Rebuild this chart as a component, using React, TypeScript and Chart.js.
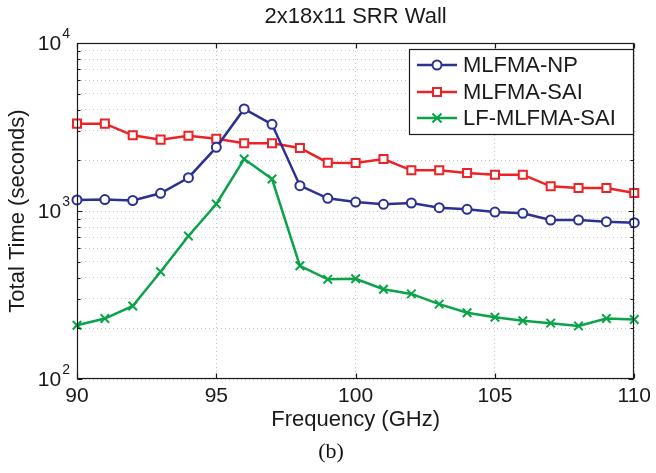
import { useEffect, useRef } from 'react';
import { Chart, registerables } from 'chart.js';

Chart.register(...registerables);

const frequencies = [90, 91, 92, 93, 94, 95, 96, 97, 98, 99, 100, 101, 102, 103, 104, 105, 106, 107, 108, 109, 110];
const mlfmaNP = [1163, 1170, 1155, 1274, 1578, 2393, 4048, 3282, 1415, 1190, 1130, 1096, 1116, 1047, 1023, 986, 969, 884, 884, 864, 852];
const mlfmaSAI = [3311, 3311, 2823, 2659, 2805, 2692, 2531, 2531, 2371, 1939, 1930, 2040, 1746, 1746, 1683, 1645, 1645, 1403, 1371, 1371, 1280];
const lfMlfmaSAI = [209, 229, 272, 435, 710, 1101, 2040, 1550, 472, 392, 395, 342, 321, 279, 248, 233, 222, 215, 207, 229, 226];

const seriesNames = ['MLFMA-NP', 'MLFMA-SAI', 'LF-MLFMA-SAI'];
const seriesColors = ['#2b3190', '#ec2227', '#0aa34a'];
const xTicks = [90, 95, 100, 105, 110];
const yDecades = [100, 1000, 10000];
const yDecadeExponents = ['2', '3', '4'];
const yMinor = [200, 300, 400, 500, 600, 700, 800, 900, 2000, 3000, 4000, 5000, 6000, 7000, 8000, 9000];

const titleText = '2x18x11 SRR Wall';
const xTitle = 'Frequency (GHz)';
const yTitle = 'Total Time (seconds)';
const caption = '(b)';

const FONT = '"Liberation Sans", Arial, Helvetica, sans-serif';

function drawMarker(ctx: CanvasRenderingContext2D, kind: number, cx: number, cy: number, color: string) {
  ctx.save();
  ctx.strokeStyle = color;
  ctx.lineWidth = 2;
  ctx.fillStyle = '#fff';
  ctx.beginPath();
  if (kind === 0) {
    ctx.arc(cx, cy, 4.5, 0, Math.PI * 2);
    ctx.fill();
    ctx.stroke();
  } else if (kind === 1) {
    ctx.rect(cx - 4, cy - 4, 8, 8);
    ctx.fill();
    ctx.stroke();
  } else {
    ctx.moveTo(cx - 4.5, cy - 4.5);
    ctx.lineTo(cx + 4.5, cy + 4.5);
    ctx.moveTo(cx + 4.5, cy - 4.5);
    ctx.lineTo(cx - 4.5, cy + 4.5);
    ctx.stroke();
  }
  ctx.restore();
}

const decorPlugin = {
  id: 'matlabDecor',
  afterDatasetsDraw(chart: any) {
    const { ctx, chartArea: a, scales } = chart;
    const xs = scales.x;
    const ys = scales.y;
    const L = Math.round(a.left) + 0.5;
    const R = Math.round(a.right) - 0.5;
    const T = Math.round(a.top) + 0.5;
    const B = Math.round(a.bottom) - 0.5;
    ctx.save();
    ctx.strokeStyle = '#1a1a1a';
    ctx.lineWidth = 1.2;
    ctx.beginPath();
    xTicks.forEach((v) => {
      const px = Math.round(xs.getPixelForValue(v)) + 0.5;
      ctx.moveTo(px, B);
      ctx.lineTo(px, B - 5);
      ctx.moveTo(px, T);
      ctx.lineTo(px, T + 5);
    });
    yDecades.forEach((v) => {
      const py = Math.round(ys.getPixelForValue(v)) + 0.5;
      ctx.moveTo(L, py);
      ctx.lineTo(L + 5, py);
      ctx.moveTo(R, py);
      ctx.lineTo(R - 5, py);
    });
    yMinor.forEach((v) => {
      const py = Math.round(ys.getPixelForValue(v)) + 0.5;
      ctx.moveTo(L, py);
      ctx.lineTo(L + 3, py);
      ctx.moveTo(R, py);
      ctx.lineTo(R - 3, py);
    });
    ctx.stroke();
    ctx.strokeRect(L, T, R - L, B - T);

    // y tick labels with superscripts
    ctx.fillStyle = '#1a1a1a';
    ctx.textBaseline = 'middle';
    yDecades.forEach((v, i) => {
      const py = ys.getPixelForValue(v);
      ctx.font = '14px ' + FONT;
      ctx.textAlign = 'right';
      const supRight = a.left - 7;
      const supW = ctx.measureText(yDecadeExponents[i]).width;
      ctx.fillText(yDecadeExponents[i], supRight, py - 9);
      ctx.font = '21px ' + FONT;
      ctx.fillText('10', supRight - supW - 1, py + 1);
    });

    // title and axis titles
    const cx = (a.left + a.right) / 2;
    ctx.textAlign = 'center';
    ctx.font = '22px ' + FONT;
    ctx.fillText(titleText, cx, 17);
    ctx.font = '22px ' + FONT;
    ctx.fillText(xTitle, cx, 420);
    ctx.save();
    ctx.translate(18, (a.top + a.bottom) / 2);
    ctx.rotate(-Math.PI / 2);
    ctx.fillText(yTitle, 0, 0);
    ctx.restore();

    ctx.font = '22px "Liberation Serif", "Times New Roman", serif';
    ctx.fillStyle = '#111';
    ctx.fillText(caption, 331, 452);

    // legend
    const lx = 409.5;
    const ly = 49.5;
    const lw = R - lx;
    const lh = 85;
    ctx.fillStyle = '#fff';
    ctx.fillRect(lx, ly, lw, lh);
    ctx.strokeStyle = '#1a1a1a';
    ctx.lineWidth = 1.2;
    ctx.strokeRect(lx, ly, lw, lh);
    const rows = [65, 92, 118];
    seriesNames.forEach((name, i) => {
      const ry = rows[i];
      ctx.strokeStyle = seriesColors[i];
      ctx.lineWidth = 2.5;
      ctx.beginPath();
      ctx.moveTo(417, ry);
      ctx.lineTo(457, ry);
      ctx.stroke();
      drawMarker(ctx, i, 437, ry, seriesColors[i]);
      ctx.fillStyle = '#1a1a1a';
      ctx.font = '22px ' + FONT;
      ctx.textAlign = 'left';
      ctx.textBaseline = 'middle';
      ctx.fillText(name, 463, ry + 1);
    });
    ctx.restore();
  },
};

export default function App() {
  const canvasRef = useRef<HTMLCanvasElement | null>(null);

  useEffect(() => {
    const canvas = canvasRef.current;
    if (!canvas) return;
    const seriesValues = [mlfmaNP, mlfmaSAI, lfMlfmaSAI];
    const pointStyles = ['circle', 'rect', 'crossRot'];
    const radii = [4.5, 5.7, 6];
    const chart = new Chart(canvas, {
      type: 'line',
      data: {
        datasets: seriesValues.map((vals, i) => ({
          label: seriesNames[i],
          data: frequencies.map((f, j) => ({ x: f, y: vals[j] })),
          borderColor: seriesColors[i],
          backgroundColor: '#ffffff',
          pointBorderColor: seriesColors[i],
          pointBackgroundColor: '#ffffff',
          borderWidth: 2.5,
          pointBorderWidth: 2,
          pointStyle: pointStyles[i] as any,
          pointRadius: radii[i],
          tension: 0,
          clip: false as any,
          order: i,
        })),
      },
      options: {
        responsive: false,
        animation: false,
        devicePixelRatio: 1,
        layout: { padding: { top: 43, right: 19, left: 0, bottom: 0 } },
        plugins: {
          legend: { display: false },
          title: { display: false },
          tooltip: { enabled: false },
        },
        scales: {
          x: {
            type: 'linear',
            min: 90,
            max: 110,
            afterFit: (scale: any) => {
              scale.height = 94;
            },
            afterBuildTicks: (scale: any) => {
              scale.ticks = xTicks.map((v) => ({ value: v }));
            },
            ticks: {
              autoSkip: false,
              maxRotation: 0,
              padding: 5,
              color: '#1a1a1a',
              font: { family: FONT, size: 21 },
              callback: (v: any) => String(v),
            },
            grid: {
              drawTicks: false,
              color: '#c4c4c4',
              lineWidth: 1,
            },
            border: { display: false, dash: [1, 3] },
          },
          y: {
            type: 'logarithmic',
            min: 100,
            max: 10000,
            afterFit: (scale: any) => {
              scale.width = 77;
            },
            afterBuildTicks: (scale: any) => {
              scale.ticks = [...yDecades, ...yMinor].sort((p, q) => p - q).map((v) => ({ value: v }));
            },
            ticks: { display: false },
            grid: {
              drawTicks: false,
              color: '#c4c4c4',
              lineWidth: 1,
            },
            border: { display: false, dash: [1, 3] },
          },
        },
      },
      plugins: [decorPlugin],
    });
    return () => chart.destroy();
  }, []);

  return (
    <div style={{ position: 'absolute', left: 0, top: 0, width: 656, height: 473, background: '#fff' }}>
      <canvas ref={canvasRef} width={656} height={473} />
    </div>
  );
}
